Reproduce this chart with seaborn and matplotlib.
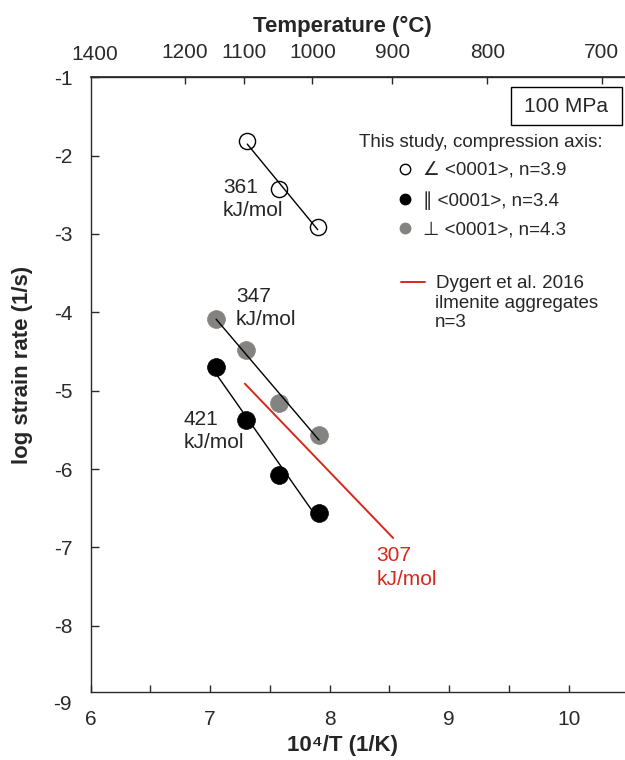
import numpy as np
import pandas as pd
import matplotlib
matplotlib.use('Agg')
import matplotlib.pyplot as plt
import matplotlib.transforms as mtransforms
from matplotlib.lines import Line2D
from matplotlib.patches import Rectangle
import seaborn as sns

# ---------------- data ----------------
angle_x = [7.31, 7.58, 7.90]            # compression axis at an angle to <0001>
angle_y = [-1.81, -2.43, -2.91]
par_x = [7.05, 7.30, 7.58, 7.91]        # parallel to <0001>
par_y = [-4.70, -5.38, -6.07, -6.56]
perp_x = [7.05, 7.30, 7.58, 7.91]       # perpendicular to <0001>
perp_y = [-4.08, -4.48, -5.16, -5.57]
dygert_x = [7.29, 8.53]                 # Dygert et al. 2016
dygert_y = [-4.91, -6.88]

x_ticks = [6, 7, 8, 9, 10]
x_minor = [6.5, 7.5, 8.5, 9.5]
y_ticks = [-1, -2, -3, -4, -5, -6, -7, -8]
top_temps_c = [1200, 1100, 1000, 900, 800, 700]

legend_labels = ["\u2220 <0001>, n=3.9", "\u2225 <0001>, n=3.4", "\u22a5 <0001>, n=4.3"]
energy_labels = ["361\nkJ/mol", "347\nkJ/mol", "421\nkJ/mol", "307\nkJ/mol"]

GRAY = '#858382'
RED = '#d9271c'
SPINE = '#2a2a2a'

sns.set_theme(style='ticks')
plt.rcParams['font.family'] = ['Liberation Sans', 'DejaVu Sans']
plt.rcParams['axes.edgecolor'] = SPINE
plt.rcParams['xtick.color'] = SPINE
plt.rcParams['ytick.color'] = SPINE

fig = plt.figure(figsize=(6.25, 7.6), dpi=100)
ax = fig.add_axes([0.14496, 0.08908, 0.85504, 0.80921])

# markers
sns.scatterplot(x=angle_x, y=angle_y, ax=ax, s=135, color='white',
                edgecolor='black', linewidth=1.0, zorder=2)
sns.scatterplot(x=perp_x, y=perp_y, ax=ax, s=165, color=GRAY,
                edgecolor=GRAY, linewidth=0.5, zorder=2)
sns.scatterplot(x=par_x, y=par_y, ax=ax, s=165, color='black',
                edgecolor='black', linewidth=0.5, zorder=2)

# Arrhenius fits
for xs, ys in [(angle_x, angle_y), (perp_x, perp_y), (par_x, par_y)]:
    sns.regplot(x=xs, y=ys, ax=ax, scatter=False, ci=None, truncate=True,
                color='black', line_kws={'lw': 1.0, 'zorder': 3})

sns.lineplot(x=dygert_x, y=dygert_y, ax=ax, color=RED, lw=1.4, zorder=2)

# axes
ax.set_xlim(6, 10.47)
ax.set_ylim(-8.85, -1)
ax.set_xticks(x_ticks)
ax.set_xticks(x_minor, minor=True)
ax.set_yticks(y_ticks)
ax.set_xticklabels([str(v) for v in x_ticks])
ax.set_yticklabels([str(v) for v in y_ticks])
ax.tick_params(axis='x', which='both', direction='in', length=5, width=1,
               labelsize=15, pad=13, top=False)
ax.tick_params(axis='y', which='both', direction='in', length=6, width=1,
               labelsize=15, pad=13, right=False)
for s in ['left', 'bottom', 'top']:
    ax.spines[s].set_linewidth(1.0)
ax.spines['right'].set_visible(False)

# "-9" label lies just below the frame
trans = mtransforms.blended_transform_factory(ax.transAxes, ax.transData)
ax.text(-0.0348, -9, '-9', transform=trans, ha='right', va='center',
        fontsize=15, color=SPINE, clip_on=False)

ax.set_xlabel('10\u2074/T (1/K)', fontsize=16, fontweight='bold')
ax.xaxis.set_label_coords(0.472, -0.07)
ax.set_ylabel('log strain rate (1/s)', fontsize=16, fontweight='bold')
ax.yaxis.set_label_coords(-0.108, 0.532)

# top temperature axis
ax2 = ax.twiny()
ax2.set_xlim(ax.get_xlim())
top_pos = [1e4 / (t + 273.15) for t in top_temps_c]
ax2.set_xticks(top_pos)
ax2.set_xticklabels([str(t) for t in top_temps_c])
ax2.tick_params(axis='x', direction='in', length=5, width=1, labelsize=15, pad=11)
for s in ['right', 'bottom', 'left']:
    ax2.spines[s].set_visible(False)
trans2 = mtransforms.blended_transform_factory(ax2.transData, ax2.transAxes)
ax2.text(1e4 / (1400 + 273.15) + 0.06, 1.021, '1400',
         transform=trans2, ha='center', va='bottom', fontsize=15,
         color=SPINE, clip_on=False)
ax2.set_xlabel('Temperature (\u00b0C)', fontsize=16, fontweight='bold')
ax2.xaxis.set_label_coords(0.472, 1.074)

# activation-energy annotations
kw = dict(ha='left', va='center', fontsize=15, linespacing=1.3)
ax.text(7.107, -2.553, energy_labels[0], **kw)
ax.text(7.216, -3.945, energy_labels[1], **kw)
ax.text(6.781, -5.515, energy_labels[2], **kw)
ax.text(8.392, -7.257, energy_labels[3], color=RED, **kw)

# legend: this study
handles = [
    Line2D([], [], ls='none', marker='o', ms=7.5, mfc='white', mec='black', mew=1.0),
    Line2D([], [], ls='none', marker='o', ms=7.5, mfc='black', mec='black'),
    Line2D([], [], ls='none', marker='o', ms=7.5, mfc=GRAY, mec=GRAY),
]
leg1 = ax.legend(handles, legend_labels, title='This study, compression axis:',
                 loc='center', bbox_to_anchor=(481 / 625, 1 - 186 / 760),
                 bbox_transform=fig.transFigure, frameon=False, fontsize=13.5,
                 title_fontsize=13.5, handlelength=1.0, handletextpad=0.5,
                 labelspacing=0.62, borderpad=0, borderaxespad=0)
ax.add_artist(leg1)

leg2 = ax.legend([Line2D([], [], color=RED, lw=1.4)], ['Dygert et al. 2016'],
                 loc='upper left', bbox_to_anchor=(401 / 625, 1 - 275 / 760),
                 bbox_transform=fig.transFigure, frameon=False, fontsize=13.5,
                 handlelength=1.3, handletextpad=0.55, borderpad=0, borderaxespad=0)
fig.text(435 / 625, 1 - 313 / 760, 'ilmenite aggregates\nn=3', ha='left',
         va='center', fontsize=13.5, linespacing=1.2)

# pressure box
fig.add_artist(Rectangle((510.7 / 625, 1 - 125 / 760), 111 / 625, 38.3 / 760,
                         transform=fig.transFigure, fill=False, ec='black', lw=1.0))
fig.text(566 / 625, 1 - 106 / 760, '100 MPa', ha='center', va='center', fontsize=15)

fig.savefig('out.png', dpi=100)
